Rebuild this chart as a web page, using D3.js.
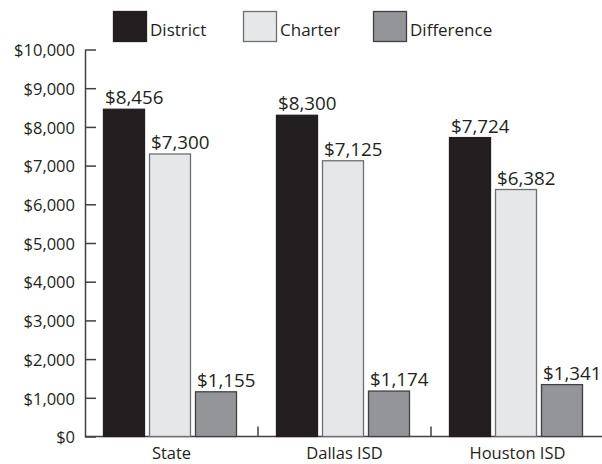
<!DOCTYPE html>
<html>
<head>
<meta charset="utf-8">
<script src="https://cdn.jsdelivr.net/npm/d3@7"></script>
<style>
  html, body { margin: 0; padding: 0; background: #fff; }
  svg { display: block; }
  text { font-family: "Open Sans", "Noto Sans", sans-serif; fill: #231f20; }
</style>
</head>
<body>
<svg id="chart" width="602" height="464"></svg>
<script>
const categories = ["State", "Dallas ISD", "Houston ISD"];
const seriesNames = ["District", "Charter", "Difference"];
const district = [8456, 8300, 7724];
const charter = [7300, 7125, 6382];
const difference = [1155, 1174, 1341];
const yTicks = [0, 1000, 2000, 3000, 4000, 5000, 6000, 7000, 8000, 9000, 10000];

const seriesValues = [district, charter, difference];
const fills = ["#231f20", "#e6e7e8", "#939598"];
const strokes = ["#231f20", "#6d6e71", "#414042"];

const svg = d3.select("#chart");
const fmt = d3.format("$,");

const x = d3.scaleBand().domain(categories).range([85, 604]).padding(0);
const xs = d3.scaleBand().domain(seriesNames).range([18, 152]).paddingInner(0.087).paddingOuter(0);
const y = d3.scaleLinear().domain([0, 10000]).range([436.5, 49.5]);

// Y axis
const yAxis = d3.axisLeft(y).tickValues(yTicks).tickFormat(fmt).tickSize(-11).tickSizeOuter(0).tickPadding(10);
const gy = svg.append("g").attr("transform", "translate(85,0)").call(yAxis);
gy.select(".domain").attr("stroke", "#414042").attr("stroke-width", 1.5);
gy.selectAll(".tick line").attr("stroke", "#414042").attr("stroke-width", 1.5);
gy.selectAll(".tick text").attr("font-family", "'Open Sans', sans-serif").attr("font-size", 16.5).attr("fill", "#231f20").attr("dy", "0.38em");

// X baseline
svg.append("line").attr("x1", 85).attr("x2", 602).attr("y1", y(0)).attr("y2", y(0))
  .attr("stroke", "#414042").attr("stroke-width", 1.5);

// separators
svg.selectAll(".sep").data(categories.slice(1)).join("line")
  .attr("class", "sep")
  .attr("x1", d => x(d)).attr("x2", d => x(d))
  .attr("y1", y(0)).attr("y2", y(0) - 10)
  .attr("stroke", "#414042").attr("stroke-width", 1.5);

// category labels
svg.selectAll(".cat").data(categories).join("text")
  .attr("class", "cat")
  .attr("x", d => x(d) + x.bandwidth() / 2)
  .attr("y", 458.5)
  .attr("text-anchor", "middle")
  .attr("font-size", 16.5)
  .text(d => d);

// bars
const groups = svg.selectAll(".grp").data(categories).join("g")
  .attr("class", "grp")
  .attr("transform", d => `translate(${x(d)},0)`);

groups.each(function(cat, ci) {
  const g = d3.select(this);
  seriesNames.forEach((s, si) => {
    const v = seriesValues[si][ci];
    g.append("rect")
      .attr("x", xs(s) + 0.5)
      .attr("y", y(v))
      .attr("width", xs.bandwidth() - 1)
      .attr("height", y(0) - y(v))
      .attr("fill", fills[si])
      .attr("stroke", strokes[si])
      .attr("stroke-width", 1.3);
    g.append("text")
      .attr("x", xs(s) + 2)
      .attr("y", y(v) - 5)
      .attr("font-size", 18.8)
      .text(fmt(v));
  });
});

// legend
const legendX = [113, 243, 373];
const leg = svg.selectAll(".leg").data(seriesNames).join("g")
  .attr("class", "leg")
  .attr("transform", (d, i) => `translate(${legendX[i]},11)`);
leg.append("rect")
  .attr("x", 0.5).attr("y", 0.5).attr("width", 33).attr("height", 30)
  .attr("fill", (d, i) => fills[i])
  .attr("stroke", (d, i) => strokes[i])
  .attr("stroke-width", 1.3);
leg.append("text")
  .attr("x", 37).attr("y", 25)
  .attr("font-size", 17)
  .text(d => d);
</script>
</body>
</html>
